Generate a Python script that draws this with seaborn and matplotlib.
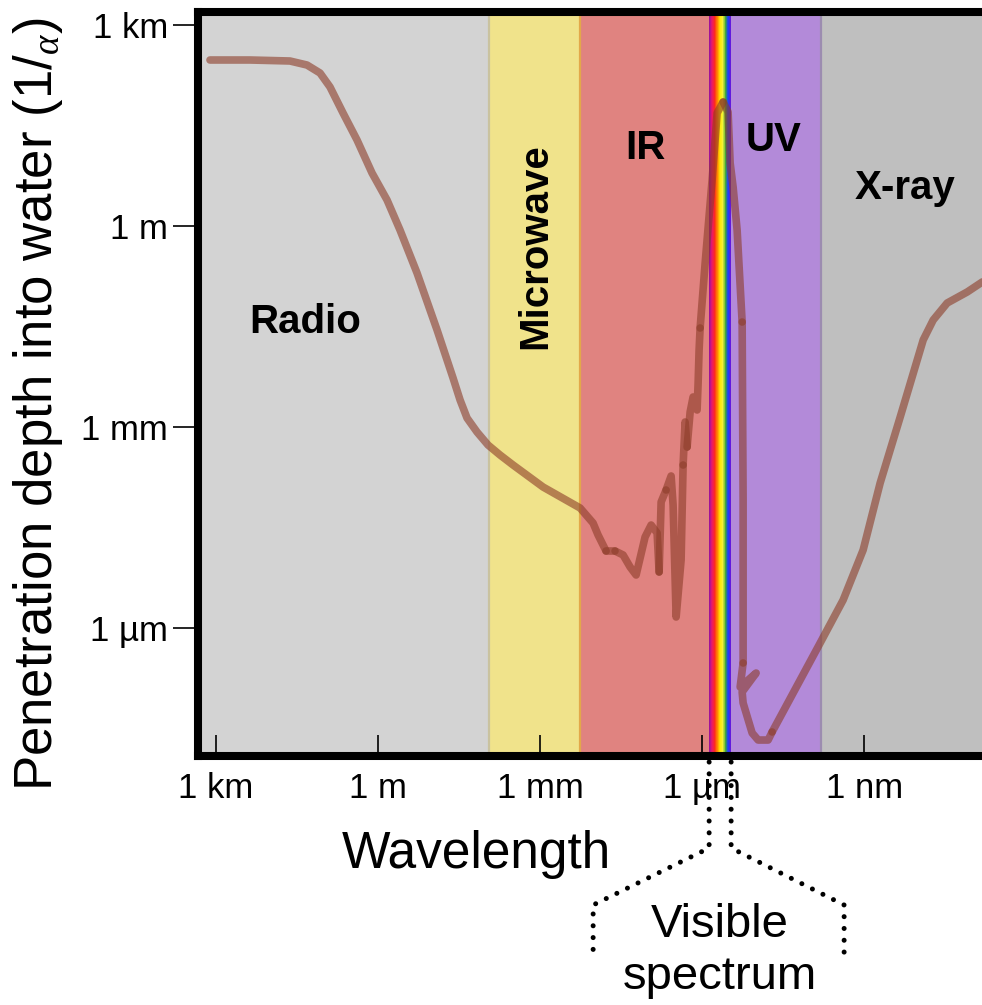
import numpy as np
import matplotlib
matplotlib.use("Agg")
import matplotlib.pyplot as plt
import seaborn as sns
from matplotlib.colors import LinearSegmentedColormap

# Penetration depth of electromagnetic radiation into water.
# Both series are stored as log10 of metres.
log10_wavelength_m = [
    3.111, 2.370, 1.630, 1.315, 1.074, 0.889, 0.648, 0.389, 0.111, -0.167,
    -0.407, -0.722, -1.093, -1.389, -1.519, -1.648, -1.833, -2.037, -2.259, -2.500,
    -3.056, -3.741, -3.981, -4.074, -4.222, -4.389, -4.537, -4.667, -4.778, -4.944,
    -5.056, -5.167, -5.204, -5.241, -5.333, -5.426, -5.463, -5.519, -5.611, -5.648,
    -5.685, -5.722, -5.778, -5.833, -5.907, -5.926, -5.944, -5.963, -6.056, -6.185,
    -6.278, -6.389, -6.481, -6.519, -6.574, -6.648, -6.741, -6.759, -6.759, -6.704,
    -7.000, -6.741, -6.759, -6.926, -7.037, -7.222, -7.296, -8.185, -8.611, -8.981,
    -9.296, -9.667, -10.093, -10.278, -10.537, -10.907, -11.185, -11.520,
]
log10_depth_m = [
    2.478, 2.478, 2.463, 2.403, 2.284, 2.075, 1.687, 1.284, 0.791, 0.388,
    -0.060, -0.701, -1.552, -2.269, -2.597, -2.866, -3.075, -3.269, -3.418, -3.567,
    -3.896, -4.209, -4.433, -4.612, -4.851, -4.851, -4.910, -5.090, -5.209, -4.642,
    -4.463, -4.582, -5.164, -4.119, -3.940, -3.731, -4.164, -5.836, -4.985, -3.567,
    -2.925, -3.299, -2.776, -2.552, -2.746, -2.343, -1.851, -1.522, -0.552, 0.687,
    1.687, 1.851, 1.701, 0.940, 0.582, -0.060, -1.433, -4.090, -6.522, -6.881,
    -6.672, -6.955, -7.119, -7.567, -7.672, -7.672, -7.552, -6.224, -5.582, -4.836,
    -3.836, -2.851, -1.701, -1.403, -1.149, -0.985, -0.836, -0.760,
]
# indices where the measured curve is stitched from separate pieces
piece_breaks = [24, 25, 32, 34, 39, 41, 47, 51, 56, 58, 66]

# spectral bands (log10 of wavelength in metres)
band_edges_log10 = [3.333, -2.05, -3.74, -6.13, -6.537, -8.2, -11.7]
band_colors = ["#d3d3d3", "#f0e38b", "#e08380", None, "#b38ad9", "#bfbfbf"]
band_line_colors = ["#d3d3d3", "#c9c2a0", "#e3a84a", None, "#b38ad9", "#9c8cb0"]
rainbow_colors = ["#a0109a", "#e8186e", "#ff2a1a", "#ff8a00", "#ffe800",
                  "#f6f23a", "#3aa83a", "#1f3cff", "#6a14d8"]

region_names = ["Radio", "Microwave", "IR", "UV", "X-ray"]
region_x_log10 = [1.352, -2.907, -4.944, -7.315, -9.759]
region_y_log10 = [-1.433, -0.299, 1.164, 1.284, 0.567]
region_rotation = [0, 90, 0, 0, 0]

x_tick_log10 = [3, 0, -3, -6, -9]
x_tick_labels = ["1 km", "1 m", "1 mm", "1 µm", "1 nm"]
y_tick_log10 = [3, 0, -3, -6]
y_tick_labels = ["1 km", "1 m", "1 mm", "1 µm"]

sns.set_theme(style="white")
plt.rcParams["font.family"] = ["Liberation Sans", "DejaVu Sans"]
plt.rcParams["mathtext.fontset"] = "custom"
plt.rcParams["mathtext.rm"] = "Liberation Serif"
plt.rcParams["mathtext.it"] = "Liberation Serif:italic"
for key in ["text.color", "axes.labelcolor", "xtick.color", "ytick.color"]:
    plt.rcParams[key] = "black"

W, H = 982, 1005
fig = plt.figure(figsize=(W / 100, H / 100), dpi=100)
fig.patch.set_facecolor("white")
ax = fig.add_axes([198 / W, 1 - 755.5 / H, (1010 - 198) / W, (755.5 - 12.5) / H])
ax.set_xscale("log")
ax.set_yscale("log")
ax.set_xlim(10 ** band_edges_log10[0], 10 ** band_edges_log10[-1])
ax.set_ylim(10 ** -7.903, 10 ** 3.187)

# coloured spectral bands
for i, col in enumerate(band_colors):
    lo, hi = 10 ** band_edges_log10[i + 1], 10 ** band_edges_log10[i]
    if col is None:
        cmap = LinearSegmentedColormap.from_list("vis", rainbow_colors[::-1])
        n = 60
        edges = np.logspace(band_edges_log10[i + 1], band_edges_log10[i], n + 1)
        for k in range(n):
            ax.axvspan(edges[k], edges[k + 1], color=cmap(k / (n - 1)), lw=0, zorder=1)
    else:
        ax.axvspan(lo, hi, color=col, lw=0, zorder=0)
        ax.axvline(hi, color=band_line_colors[i], lw=1.6, zorder=0.5)

# absorption curve, drawn piece by piece
xs = 10 ** np.array(log10_wavelength_m)
ys = 10 ** np.array(log10_depth_m)
bounds = [0] + piece_breaks + [len(xs) - 1]
curve_kw = dict(color="#8c3c28", alpha=0.6, linewidth=5.5, sort=False,
                estimator=None, legend=False, zorder=3)
for a, b in zip(bounds[:-1], bounds[1:]):
    sns.lineplot(x=xs[a:b + 1], y=ys[a:b + 1], ax=ax, **curve_kw)
for ln in ax.lines:
    ln.set_solid_capstyle("round")
    ln.set_solid_joinstyle("round")

# band names
for name, lx, ly, rot in zip(region_names, region_x_log10, region_y_log10, region_rotation):
    ax.text(10 ** lx, 10 ** ly, name, ha="center", va="center", rotation=rot,
            fontsize=29, fontweight="bold", color="black", zorder=5)

# axes frame and ticks
for side in ["left", "top", "bottom"]:
    ax.spines[side].set_linewidth(5.8)
    ax.spines[side].set_color("black")
ax.spines["right"].set_visible(False)
ax.minorticks_off()
ax.set_xticks([10.0 ** v for v in x_tick_log10])
ax.set_xticklabels(x_tick_labels)
ax.set_yticks([10.0 ** v for v in y_tick_log10])
ax.set_yticklabels(y_tick_labels)
ax.tick_params(axis="x", direction="in", length=15, width=1.2, color="black",
               labelsize=25, pad=12, bottom=True, labelcolor="black")
ax.tick_params(axis="y", direction="out", length=18, width=1.2, color="black",
               labelsize=25, pad=3.5, left=True, labelcolor="black")
ax.grid(False)

ax.set_xlabel("Wavelength", fontsize=37, color="black")
ax.xaxis.set_label_coords(0.3424, -0.100)
ax.xaxis.label.set_va("top")
ax.set_ylabel(r"Penetration depth into water (1/$_{\alpha}$)", fontsize=38, color="black")
ax.yaxis.set_label_coords(-0.164, 0.473)

# dotted bracket marking the visible spectrum
fig.canvas.draw()
xl = ax.transData.transform((10 ** band_edges_log10[3], 1))[0]
xr = ax.transData.transform((10 ** band_edges_log10[4], 1))[0]
dot_kw = dict(color="black", lw=3.6, linestyle=(0, (0.01, 2.35)),
              dash_capstyle="round", transform=fig.transFigure, clip_on=False)
for px in ([xl, xl, xl - 116, xl - 116], [xr, xr, xr + 113, xr + 113]):
    py = [762, 848, 905, 957]
    fig.add_artist(plt.Line2D([p / W for p in px], [1 - p / H for p in py], **dot_kw))
fig.text(720 / W, 1 - 951 / H, "Visible\nspectrum", ha="center", va="center",
         fontsize=34, linespacing=1.25, color="black")

fig.savefig("out.png", dpi=100)
